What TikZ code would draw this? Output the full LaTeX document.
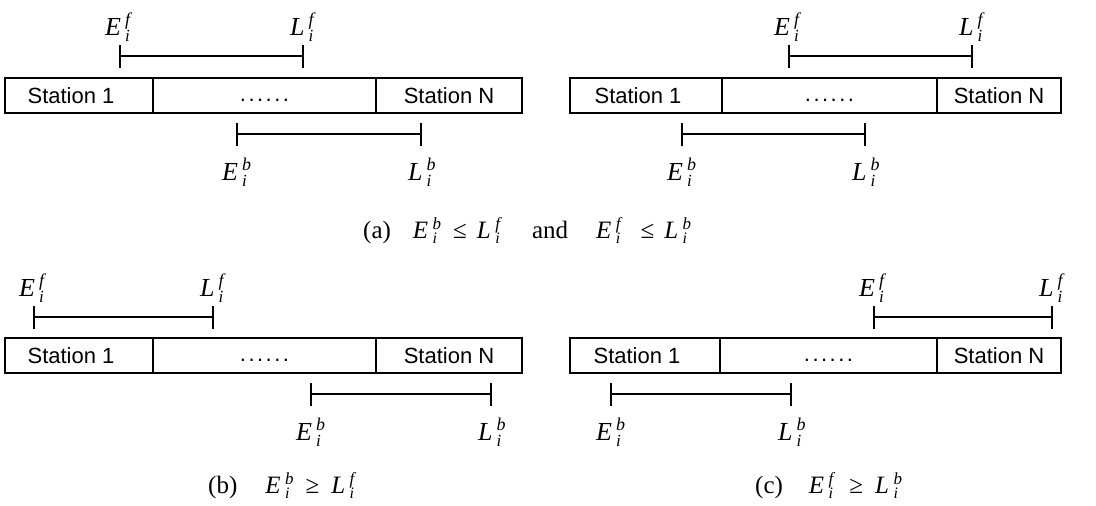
\documentclass[tikz,border=0pt]{standalone}
\usepackage{fontspec}
\setmainfont{Liberation Serif}
\newfontfamily\stfont{Liberation Sans}
\newcommand\lbl[2]{#1\kern4pt\rlap{\raisebox{-6.5pt}{\fontsize{17}{17}\selectfont i}}\raisebox{9.5pt}{\fontsize{18}{18}\selectfont #2}}
\newcommand\clbl[2]{\textit{#1}\kern4.5pt\rlap{\raisebox{-5.5pt}{\fontsize{16}{16}\selectfont\textit{i}}}\raisebox{8.5pt}{\fontsize{17}{17}\selectfont\textit{#2}}}
\newcommand\sixdots{\raisebox{0pt}[11pt][0pt]{.\kern2.5pt.\kern2.5pt.\kern2.5pt.\kern2.5pt.\kern2.5pt.}}
\newcommand\firstst{\hspace*{-16pt}Station 1}
\tikzset{
  cell/.style={draw, line width=1.9pt, minimum height=35pt, inner sep=0pt, font=\stfont\fontsize{22}{22}\selectfont},
  barline/.style={line width=2pt},
  tickline/.style={line width=2.2pt},
  tl/.style={inner sep=0pt, anchor=base west, font=\fontsize{26}{26}\selectfont\itshape},
  captext/.style={inner sep=0pt, anchor=base west, font=\fontsize{25}{25}\selectfont}
}
\begin{document}
\begin{tikzpicture}[x=1pt,y=-1pt]
\useasboundingbox (0,0) rectangle (1096,506);
% ---------- panel a left
\node[cell, minimum width=148pt] (a1s) at (79,95.5) {\firstst};
\node[cell, minimum width=223pt] (a1m) at (264.5,95.5) {\sixdots};
\node[cell, minimum width=146pt] (a1n) at (449,95.5) {Station N};
\coordinate (a1fe) at (120,56); \coordinate (a1fl) at (303,56);
\coordinate (a1be) at (237,134); \coordinate (a1bl) at (421,134);
\draw[barline] (a1fe) -- (a1fl);
\draw[barline] (a1be) -- (a1bl);
\foreach \c in {a1fe,a1fl,a1be,a1bl} \draw[tickline] ([yshift=-11.5pt]\c) -- ([yshift=11.5pt]\c);
\node[tl] (a1fel) at (105,35) {\lbl{E}{f}};
\node[tl] (a1fll) at (290,35) {\lbl{L}{f}};
\node[tl] (a1bel) at (222,180) {\lbl{E}{b}};
\node[tl] (a1bll) at (408,180) {\lbl{L}{b}};
% ---------- panel a right
\node[cell, minimum width=152pt] (a2s) at (646,95.5) {\firstst};
\node[cell, minimum width=215pt] (a2m) at (829.5,95.5) {\sixdots};
\node[cell, minimum width=124pt] (a2n) at (999,95.5) {Station N};
\coordinate (a2fe) at (789,56); \coordinate (a2fl) at (972,56);
\coordinate (a2be) at (682,134); \coordinate (a2bl) at (865,134);
\draw[barline] (a2fe) -- (a2fl);
\draw[barline] (a2be) -- (a2bl);
\foreach \c in {a2fe,a2fl,a2be,a2bl} \draw[tickline] ([yshift=-11.5pt]\c) -- ([yshift=11.5pt]\c);
\node[tl] (a2fel) at (774,35) {\lbl{E}{f}};
\node[tl] (a2fll) at (959,35) {\lbl{L}{f}};
\node[tl] (a2bel) at (667,180) {\lbl{E}{b}};
\node[tl] (a2bll) at (852,180) {\lbl{L}{b}};
\node[captext] (capa) at (363,238) {(a)\hspace{22pt}\clbl{E}{b}\hspace{12pt}≤\hspace{10pt}\clbl{L}{f}\hspace{30pt}and\hspace{28pt}\clbl{E}{f}\hspace{18pt}≤\hspace{10pt}\clbl{L}{b}};
% ---------- panel b
\node[cell, minimum width=148pt] (bs) at (79,355.5) {\firstst};
\node[cell, minimum width=223pt] (bm) at (264.5,355.5) {\sixdots};
\node[cell, minimum width=146pt] (bn) at (449,355.5) {Station N};
\coordinate (bfe) at (34,317); \coordinate (bfl) at (213,317);
\coordinate (bbe) at (311,394); \coordinate (bbl) at (491,394);
\draw[barline] (bfe) -- (bfl);
\draw[barline] (bbe) -- (bbl);
\foreach \c in {bfe,bfl,bbe,bbl} \draw[tickline] ([yshift=-11.5pt]\c) -- ([yshift=11.5pt]\c);
\node[tl] (bfel) at (19,296) {\lbl{E}{f}};
\node[tl] (bfll) at (200,296) {\lbl{L}{f}};
\node[tl] (bbel) at (296,440) {\lbl{E}{b}};
\node[tl] (bbll) at (478,440) {\lbl{L}{b}};
\node[captext] (capb) at (208,493) {(b)\hspace{28pt}\clbl{E}{b}\hspace{12pt}≥\hspace{12pt}\clbl{L}{f}};
% ---------- panel c
\node[cell, minimum width=150pt] (cs) at (645,355.5) {\firstst};
\node[cell, minimum width=217pt] (cm) at (828.5,355.5) {\sixdots};
\node[cell, minimum width=124pt] (cn) at (999,355.5) {Station N};
\coordinate (cfe) at (874,317); \coordinate (cfl) at (1052,317);
\coordinate (cbe) at (611,394); \coordinate (cbl) at (791,394);
\draw[barline] (cfe) -- (cfl);
\draw[barline] (cbe) -- (cbl);
\foreach \c in {cfe,cfl,cbe,cbl} \draw[tickline] ([yshift=-11.5pt]\c) -- ([yshift=11.5pt]\c);
\node[tl] (cfel) at (859,296) {\lbl{E}{f}};
\node[tl] (cfll) at (1039,296) {\lbl{L}{f}};
\node[tl] (cbel) at (596,440) {\lbl{E}{b}};
\node[tl] (cbll) at (778,440) {\lbl{L}{b}};
\node[captext] (capc) at (755,493) {(c)\hspace{26pt}\clbl{E}{f}\hspace{14pt}≥\hspace{12pt}\clbl{L}{b}};
\end{tikzpicture}
\end{document}
